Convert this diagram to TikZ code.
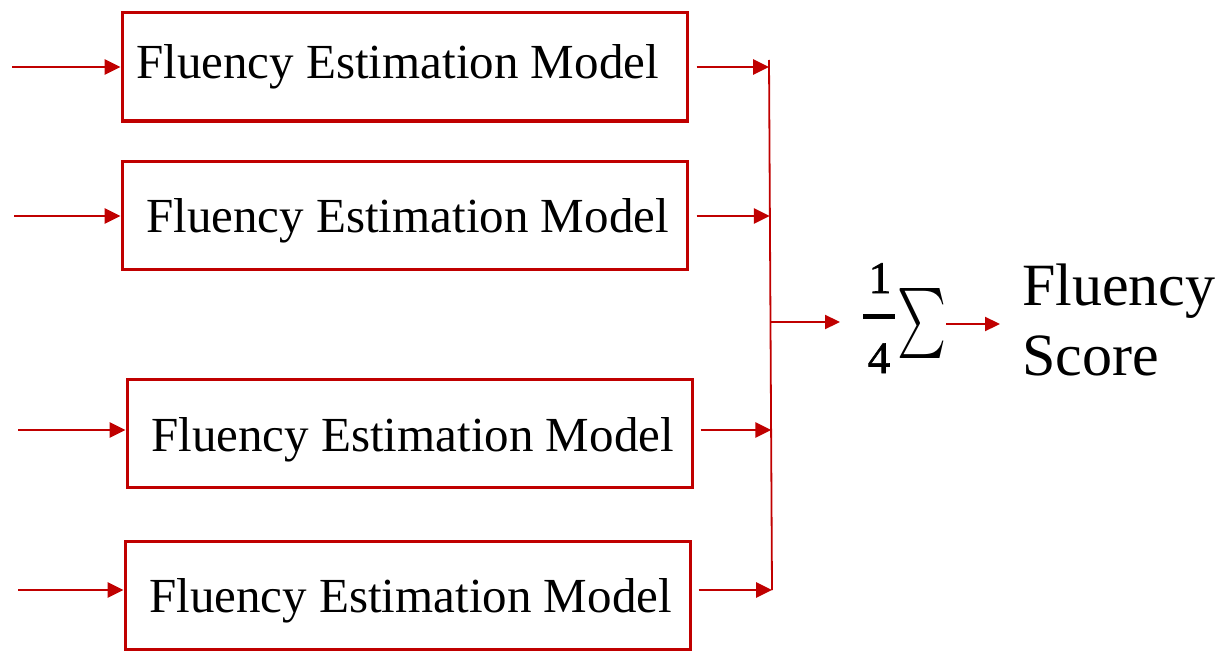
\documentclass[tikz,border=0pt]{standalone}
\usepackage{fontspec}
\setmainfont{Liberation Serif}
\usepackage{graphicx}
\usetikzlibrary{arrows.meta}
\definecolor{rd}{HTML}{C00000}
\begin{document}
\begin{tikzpicture}[x=1pt,y=-1pt,
  box/.style={draw=rd,line width=3pt,minimum width=565pt,minimum height=108pt,inner sep=0pt},
  lbl/.style={font=\fontsize{49}{58}\selectfont,inner sep=0pt,anchor=base west},
  big/.style={font=\fontsize{60}{70}\selectfont,inner sep=0pt,anchor=base west},
  digit/.style={font=\fontsize{45}{52}\selectfont\addfontfeature{FakeBold=1.5},inner sep=0pt,anchor=base},
  arr/.style={draw=rd,line width=2.9pt,-{Triangle[length=16pt,width=15pt]}},
  arrs/.style={draw=rd,line width=2.2pt,-{Triangle[length=15pt,width=14pt]}},
  bus/.style={draw=rd,line width=1.8pt}]
\useasboundingbox (0,0) rectangle (1222,650);

% boxes
\node[box] (b1) at (404.5,67) {};
\node[box] (b2) at (404.5,215) {};
\node[box] (b3) at (409.5,433.5) {};
\node[box] (b4) at (407.5,595) {};

% labels
\node[lbl] (t1) at (136,79) {Fluency Estimation Model};
\node[lbl] (t2) at (146,232) {Fluency Estimation Model};
\node[lbl] (t3) at (151,451) {Fluency Estimation Model};
\node[lbl] (t4) at (149,612) {Fluency Estimation Model};

% input arrows
\coordinate (i1) at (12,67);
\coordinate (i2) at (14,216);
\coordinate (i3) at (18,430);
\coordinate (i4) at (18,590);
\draw[arr] (i1) -- (i1 -| b1.west);
\draw[arr] (i2) -- (i2 -| b2.west);
\draw[arr] (i3) -- (i3 -| b3.west);
\draw[arr] (i4) -- (i4 -| b4.west);

% bus
\coordinate (top) at (769,60);
\coordinate (bot) at (772,590);
\draw[bus] (top) -- (bot);
\coordinate (c1) at (769,67);
\coordinate (c2) at (769.8,216);
\coordinate (c3) at (771.3,430);
\coordinate (c4) at (772,590);
\draw[arr] ([xshift=8pt]b1.east |- c1) -- (c1);
\draw[arr] ([xshift=8pt]b2.east |- c2) -- (c2);
\draw[arr] ([xshift=7pt]b3.east |- c3) -- (c3);
\draw[arr] ([xshift=7pt]b4.east |- c4) -- (c4);

% sum
\coordinate (m) at (770.5,322);
\node[digit] (n1) at (880,293) {1};
\node[digit] (n4) at (879,373) {4};
\coordinate (frl) at (863,316.5);
\coordinate (frr) at (895,316.5);
\draw[line width=5.5pt] (frl) -- (frr);
\node[inner sep=0pt,anchor=north west] (sig) at (897,288) {\resizebox*{49pt}{70pt}{$\textstyle\sum$}};
\draw[arrs] (m) -- ([xshift=-23pt]m -| frl);
\node[big] (fl) at (1022,305) {Fluency};
\node[big] (sc) at (1022,375) {Score};
\draw[arrs] (sig.east |- 0,324) -- ([xshift=-22pt]fl.west |- 0,324);
\end{tikzpicture}
\end{document}
